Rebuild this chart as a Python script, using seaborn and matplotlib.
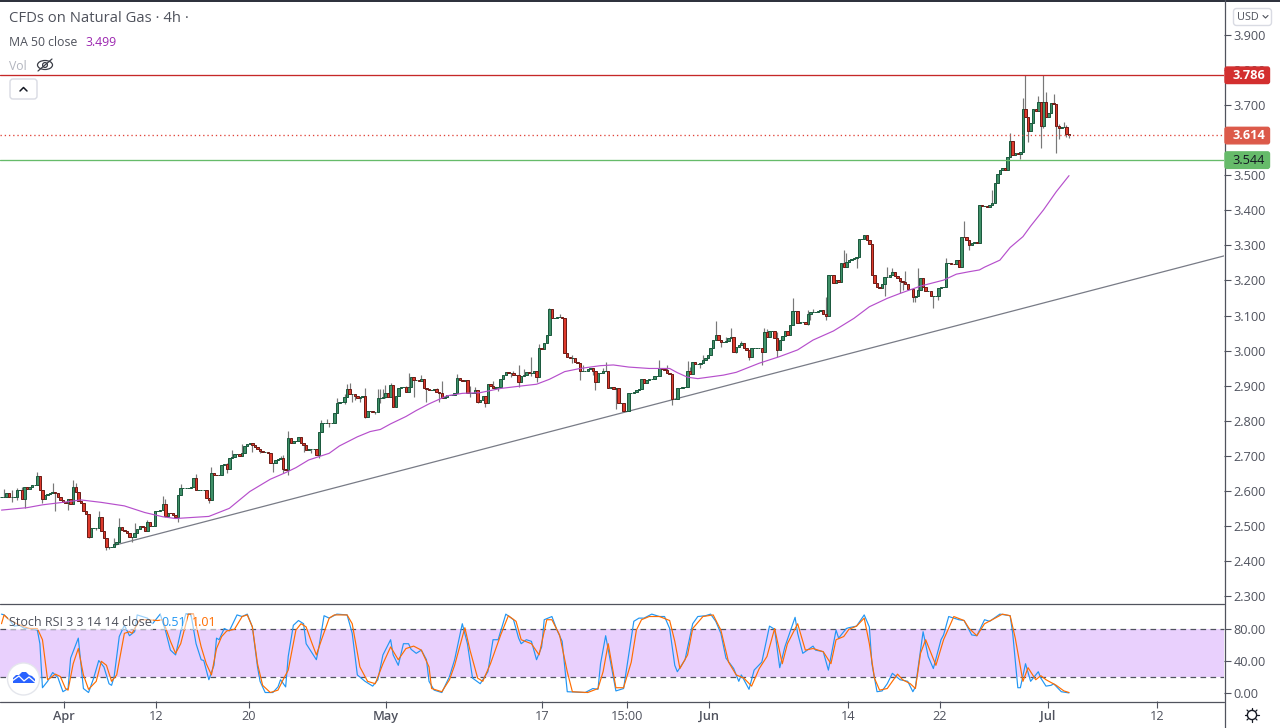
import numpy as np
import pandas as pd
import matplotlib
matplotlib.use("Agg")
import matplotlib.pyplot as plt
from matplotlib.patches import FancyBboxPatch, Circle, Ellipse, Polygon
import seaborn as sns

# ---------- data ----------
first_open = 2.582
closes = [
2.582,2.582,2.595,2.582,2.582,2.582,2.601,2.602,2.577,2.610,2.606,2.610,2.616,2.617,2.642,2.601,2.577,2.588,2.591,2.593,
2.596,2.593,2.583,2.574,2.568,2.566,2.576,2.562,2.612,2.598,2.572,2.564,2.543,2.534,2.469,2.493,2.493,2.494,2.526,2.486,
2.465,2.439,2.439,2.441,2.448,2.455,2.496,2.488,2.486,2.479,2.467,2.467,2.479,2.490,2.500,2.498,2.484,2.512,2.500,2.500,
2.543,2.543,2.545,2.562,2.528,2.538,2.536,2.530,2.526,2.588,2.607,2.607,2.607,2.608,2.610,2.636,2.602,2.602,2.602,2.602,
2.579,2.574,2.650,2.646,2.645,2.645,2.674,2.677,2.661,2.693,2.697,2.705,2.705,2.700,2.707,2.728,2.734,2.737,2.731,2.724,
2.718,2.714,2.712,2.712,2.709,2.680,2.680,2.688,2.690,2.693,2.661,2.659,2.750,2.737,2.742,2.743,2.753,2.737,2.731,2.716,
2.718,2.720,2.720,2.701,2.769,2.793,2.794,2.794,2.793,2.794,2.821,2.850,2.854,2.854,2.869,2.889,2.876,2.876,2.870,2.864,
2.867,2.870,2.811,2.829,2.829,2.826,2.826,2.864,2.864,2.867,2.880,2.869,2.902,2.840,2.871,2.892,2.895,2.895,2.883,2.895,
2.926,2.916,2.916,2.914,2.918,2.892,2.890,2.888,2.888,2.890,2.883,2.878,2.864,2.867,2.873,2.873,2.874,2.880,2.921,2.916,
2.914,2.916,2.880,2.880,2.880,2.888,2.854,2.859,2.871,2.850,2.905,2.899,2.892,2.895,2.895,2.918,2.930,2.940,2.935,2.935,
2.930,2.929,2.909,2.928,2.930,2.940,2.937,2.937,2.943,2.924,3.008,3.004,3.021,3.045,3.118,3.092,3.092,3.095,3.097,3.092,
2.992,2.981,2.978,2.978,2.968,2.964,2.943,2.943,2.943,2.947,2.949,2.943,2.909,2.937,2.937,2.943,2.943,2.892,2.895,2.890,
2.892,2.850,2.850,2.829,2.829,2.878,2.880,2.883,2.888,2.890,2.918,2.907,2.916,2.918,2.918,2.928,2.928,2.949,2.947,2.945,
2.935,2.933,2.861,2.861,2.892,2.892,2.895,2.895,2.943,2.933,2.967,2.961,2.961,2.964,2.973,2.980,2.986,3.008,3.030,3.045,
3.030,3.024,3.024,3.026,3.037,3.040,2.997,3.011,3.016,3.021,3.008,3.002,2.983,3.006,3.008,3.008,3.008,2.997,3.054,3.040,
3.056,3.056,3.035,3.002,3.030,3.043,3.056,3.045,3.073,3.113,3.113,3.078,3.081,3.081,3.075,3.103,3.109,3.109,3.111,3.113,
3.116,3.103,3.100,3.217,3.217,3.192,3.201,3.197,3.249,3.239,3.252,3.258,3.260,3.263,3.268,3.318,3.318,3.330,3.315,3.303,
3.217,3.192,3.180,3.178,3.189,3.211,3.211,3.216,3.225,3.214,3.208,3.198,3.197,3.189,3.176,3.176,3.154,3.157,3.173,3.206,
3.182,3.170,3.170,3.157,3.157,3.157,3.178,3.180,3.181,3.249,3.249,3.247,3.246,3.258,3.239,3.325,3.323,3.315,3.300,3.306,
3.310,3.308,3.415,3.411,3.411,3.409,3.414,3.422,3.479,3.503,3.515,3.522,3.515,3.553,3.597,3.558,3.563,3.560,3.567,3.688,
3.667,3.627,3.648,3.688,3.684,3.708,3.642,3.708,3.665,3.679,3.705,3.702,3.642,3.636,3.639,3.639,3.617,3.614,
]
high_bars = [1,4,6,8,9,14,20,28,29,38,44,46,52,57,63,64,70,76,82,88,90,94,112,125,131,135,136,142,148,150,152,159,172,178,192,202,207,210,218,214,236,257,260,268,274,279,285,289,298,299,303,309,315,322,329,330,337,346,348,353,358,369,376,387,394,399,400,405,407,408,411,413,415,416,
             109,110,127,134,147,149,158,164,170,183,185,200,204,223,227,235,269,283,317]
high_vals = [2.604,2.602,2.607,2.610,2.612,2.653,2.623,2.631,2.623,2.542,2.466,2.522,2.507,2.517,2.585,2.576,2.619,2.647,2.667,2.680,2.715,2.734,2.771,2.802,2.864,2.905,2.907,2.892,2.890,2.902,2.907,2.935,2.913,2.933,2.913,2.959,2.983,3.018,3.103,3.121,2.967,2.973,2.959,2.970,2.987,3.084,3.065,3.027,3.063,3.061,3.054,3.149,3.116,3.154,3.287,3.277,3.331,3.239,3.235,3.227,3.235,3.263,3.371,3.458,3.620,3.721,3.785,3.726,3.785,3.737,3.732,3.646,3.652,3.643,
             2.700,2.702,2.804,2.876,2.890,2.890,2.899,2.930,2.894,2.899,2.895,2.943,2.947,2.987,2.959,2.949,2.954,3.040,3.120]
low_bars = [4,6,9,16,21,26,34,37,41,42,51,64,69,81,88,98,101,106,110,112,124,128,137,142,143,146,153,161,166,186,189,202,209,226,232,240,243,262,273,287,292,297,303,315,322,334,345,351,352,356,357,364,378,382,398,401,406,407,412,413,416,417,
            118,121,134,140,138,148,150,171,183,194,199,207,223,231,281,316,366]
low_vals = [2.569,2.574,2.550,2.564,2.543,2.545,2.465,2.488,2.431,2.434,2.455,2.524,2.512,2.566,2.650,2.712,2.709,2.655,2.650,2.645,2.695,2.783,2.854,2.807,2.811,2.819,2.838,2.869,2.854,2.850,2.838,2.895,2.911,2.916,2.888,2.832,2.826,2.845,2.950,2.992,2.973,2.959,2.983,3.073,3.087,3.236,3.157,3.163,3.173,3.139,3.139,3.121,3.287,3.393,3.546,3.596,3.577,3.634,3.565,3.603,3.608,3.606,
            2.712,2.708,2.849,2.854,2.859,2.850,2.864,2.854,2.867,2.886,2.924,2.927,2.964,2.930,3.011,3.087,3.144]

ma_bars = [0,10,16,26,31,39,48,56,63,68,81,89,97,105,111,115,120,128,132,139,144,148,152,158,162,167,174,180,187,195,203,209,214,220,226,234,239,245,253,261,264,268,272,282,287,296,304,311,317,325,333,339,346,351,359,368,373,378,382,384,390,394,399,402,407,412,417]
ma_vals = [2.545,2.552,2.560,2.569,2.574,2.567,2.557,2.538,2.526,2.521,2.527,2.550,2.598,2.633,2.652,2.666,2.688,2.707,2.728,2.754,2.769,2.775,2.791,2.812,2.829,2.848,2.871,2.878,2.880,2.892,2.899,2.904,2.918,2.940,2.949,2.957,2.959,2.953,2.949,2.949,2.937,2.924,2.920,2.930,2.938,2.964,2.983,3.002,3.030,3.056,3.092,3.125,3.149,3.163,3.184,3.201,3.218,3.225,3.230,3.238,3.258,3.294,3.325,3.355,3.401,3.453,3.499]

trend_bars = [44.3, 477.5]
trend_vals = [2.445, 3.270]
resistance = 3.786
support = 3.544
last_price = 3.614

k_bars = [0,1,3,5,7,9,12,14,15,16,18,20,22,24,26,27,30,31,32,34,36,38,40,42,43,44,46,48,50,52,53,57,59,62,64,66,68,70,72,74,76,78,79,81,83,84,85,87,89,92,94,96,98,100,101,103,106,108,109,111,112,114,116,118,119,121,123,124,126,128,131,135,137,139,142,145,147,149,152,153,155,157,159,160,162,164,166,167,
169,172,175,177,180,182,184,187,190,192,194,197,200,202,203,205,207,209,211,212,215,217,219,221,228,231,233,234,236,240,243,245,247,249,251,254,257,259,261,263,264,267,270,272,275,277,279,281,283,286,288,289,292,294,297,300,302,304,306,310,311,313,317,318,321,323,326,327,330,
331,334,337,339,340,342,344,346,348,351,354,356,357,360,362,364,367,368,370,374,376,379,381,384,386,390,394,395,397,398,400,402,405,406,408,410,411,414,417]
k_vals = [99,98,92,84,85,81,81,79,62,7,15,26,20,2,6,44,69,37,6,1,19,41,33,12,10,21,71,85,72,77,98,94,87,99,79,54,48,77,99,99,62,42,41,17,35,69,67,81,78,98,96,99,83,33,15,1,1,8,17,8,46,85,91,87,62,52,42,58,97,94,99,98,75,23,15,9,17,48,67,48,35,62,62,55,50,54,42,15,
4,1,21,42,87,62,19,12,27,67,67,99,92,69,62,67,65,42,58,92,96,79,65,2,1,6,5,37,72,3,6,48,90,94,94,99,96,96,81,35,27,42,87,96,97,99,90,75,44,31,15,23,5,29,39,84,80,32,58,95,75,50,59,54,52,29,79,69,81,
82,84,98,83,37,2,3,12,25,17,15,2,8,77,46,31,67,73,96,92,91,73,72,92,90,99,97,75,7,7,37,15,27,19,9,10,12,2,0.51]
d_bars = [0,1,3,6,9,11,14,16,18,19,21,23,25,26,28,30,32,34,37,39,41,43,45,48,50,51,54,57,61,63,66,68,70,73,75,78,80,82,84,86,88,91,94,96,98,100,102,105,108,110,112,115,117,119,121,123,125,128,130,135,137,140,143,146,149,152,155,158,161,164,167,
168,172,175,177,181,183,186,188,191,195,198,201,203,207,210,213,215,218,221,223,229,233,235,237,240,243,246,248,250,253,257,261,263,265,268,270,274,278,281,284,287,290,293,296,299,302,305,307,311,314,317,321,324,326,329,
331,334,337,339,341,343,346,350,352,355,357,359,361,365,368,372,376,378,381,384,387,391,394,396,399,401,404,406,408,412,415,417]
d_vals = [87,98,92,87,83,81,81,67,17,19,24,21,6,4,37,56,23,5,15,40,35,15,23,75,77,75,92,92,91,92,65,50,62,99,99,58,37,23,56,71,78,80,96,98,83,37,10,1,4,17,29,79,87,83,65,48,67,94,98,98,87,33,15,12,37,58,42,56,59,54,33,
6,2,17,35,82,54,19,15,37,73,97,90,67,62,48,92,92,73,27,2,1,6,27,62,7,7,39,79,92,96,96,91,65,31,48,81,96,98,79,39,23,19,9,31,46,81,37,62,87,54,56,52,37,67,71,
80,84,94,62,19,4,6,24,17,12,6,50,67,35,67,96,91,81,72,87,92,99,97,69,15,32,17,22,17,10,3,1.01]

price_ticks = [2.3,2.4,2.5,2.6,2.7,2.8,2.9,3.0,3.1,3.2,3.3,3.4,3.5,3.7,3.8,3.9]
osc_ticks = [0,40,80]
osc_band = [20,80]
time_tick_bars = [24.4,60.4,96.7,150.2,211.1,244.3,276.4,330.7,366.6,408.8,451.4]
time_tick_labels = ["Apr","12","20","May","17","15:00","Jun","14","22","Jul","12"]

# ---------- build ----------
W, H = 1280, 728
GRAY = "#50535e"
sns.set_theme(style="white")
plt.rcParams["font.family"] = ["Open Sans", "DejaVu Sans"]
fig = plt.figure(figsize=(W/100, H/100), dpi=100, facecolor="white")
ax = fig.add_axes([0, (H-603)/H, 1224/W, 603/H])
ax2 = fig.add_axes([0, (H-701)/H, 1224/W, 98/H], sharex=ax)

df = pd.DataFrame({"close": closes})
df["bar"] = np.arange(len(df))
df["open"] = [first_open] + closes[:-1]
df["high"] = df[["open", "close"]].max(axis=1)
df["low"] = df[["open", "close"]].min(axis=1)
for b, v in zip(high_bars, high_vals):
    df.loc[b, "high"] = max(df.loc[b, "high"], v)
for b, v in zip(low_bars, low_vals):
    df.loc[b, "low"] = min(df.loc[b, "low"], v)
up = df["close"] >= df["open"]

ax.vlines(df["bar"], df["low"], df["high"], color="#787878", lw=0.85, zorder=2)
for mask, fc, ec in [(up, "#3f9068", "#1d5a3f"), (~up, "#de3a2c", "#6e1d18")]:
    d = df[mask]
    ax.bar(d["bar"], (d["close"]-d["open"]), bottom=d["open"], width=0.95,
           color=fc, edgecolor=ec, linewidth=0.72, zorder=3)

sns.lineplot(x=ma_bars, y=ma_vals, ax=ax, color="#b64fcc", lw=0.85, estimator=None, sort=False, zorder=4)
sns.lineplot(x=trend_bars, y=trend_vals, ax=ax, color="#787b86", lw=0.9, estimator=None, sort=False, zorder=1)
ax.axhline(resistance, color="#c62828", lw=0.95, zorder=5)
ax.axhline(support, color="#66bb6a", lw=0.95, zorder=5)
ax.axhline(last_price, color="#e0443a", lw=0.95, ls=(0, (1, 2.2)), zorder=5)

ax.set_xlim(-0.586, 477.54)
ax.set_ylim(2.280, 4.000)
ax2.set_ylim(-9.6, 112.9)

ax2.axhspan(osc_band[0], osc_band[1], color="#e9d0fd", lw=0, zorder=0)
for v in osc_band:
    ax2.axhline(v, color=GRAY, lw=0.9, ls=(0, (4.5, 3.5)), zorder=1)
sns.lineplot(x=k_bars, y=k_vals, ax=ax2, color="#2196f3", lw=0.85, estimator=None, sort=False, zorder=3)
sns.lineplot(x=d_bars, y=d_vals, ax=ax2, color="#ff6d00", lw=0.85, estimator=None, sort=False, zorder=4)

for a in (ax, ax2):
    a.yaxis.tick_right()
    for s in ("left", "top", "bottom", "right"):
        a.spines[s].set_visible(False)
    a.set_xlabel(""); a.set_ylabel("")
    a.patch.set_alpha(0)

ax.set_yticks(price_ticks)
ax.set_yticklabels([f"{v:.3f}" for v in price_ticks])
ax2.set_yticks(osc_ticks)
ax2.set_yticklabels([f"{v:.2f}" for v in osc_ticks])
for a in (ax, ax2):
    a.tick_params(axis="y", right=True, length=5, width=0.8, color=GRAY, labelcolor=GRAY,
                  labelsize=9.2, pad=2)
ax.tick_params(axis="x", bottom=False, labelbottom=False)
ax2.set_xticks(time_tick_bars)
ax2.set_xticklabels(time_tick_labels)
ax2.tick_params(axis="x", bottom=True, length=5, width=0.8, color=GRAY, labelcolor=GRAY,
                labelsize=9.2, pad=1.5)
for lab in ax2.get_xticklabels():
    if lab.get_text() in ("Apr", "May", "Jun", "Jul"):
        lab.set_fontweight("semibold")

# overlay in pixel space for the platform chrome
ov = fig.add_axes([0, 0, 1, 1], facecolor="none")
ov.set_xlim(0, W); ov.set_ylim(H, 0); ov.axis("off")
ov.plot([0, W], [0.5, 0.5], color="#2a2e39", lw=1.4)
ov.plot([0, 1224], [603.5, 603.5], color=GRAY, lw=0.9)
ov.plot([0, 1224], [701.5, 701.5], color=GRAY, lw=0.9)
ov.plot([1224.5, 1224.5], [0, H], color=GRAY, lw=0.9)

def ypx(p):
    return H - ax.transData.transform((0, p))[1]

for val, fc, tc, w in [(resistance, "#d32f2f", "white", "bold"),
                       (last_price, "#dc5a4a", "white", "bold"),
                       (support, "#66bb6a", "#131722", "normal")]:
    y = ypx(val)
    ov.add_patch(FancyBboxPatch((1225, y-8), 44.5, 16.5, boxstyle="round,pad=0,rounding_size=2",
                                fc=fc, ec=fc, lw=1, zorder=6))
    ov.text(1249, y+0.6, f"{val:.3f}", color=tc, fontsize=9.2, fontweight=w, ha="center", va="center", zorder=7)

# legends
ov.text(9, 18.5, "CFDs on Natural Gas · 4h ·", color="#4f525c", fontsize=10.7, va="center")
ov.text(9, 42.5, "MA 50 close", color="#4f525c", fontsize=8.8, va="center")
ov.text(85, 42.5, "3.499", color="#9c27b0", fontsize=8.8, va="center")
ov.text(9, 66.5, "Vol", color="#b2b5be", fontsize=8.8, va="center")
ov.add_patch(Ellipse((45, 65), 15, 9, fc="none", ec="#3a3d46", lw=0.9))
ov.add_patch(Circle((45, 65), 2.4, fc="none", ec="#3a3d46", lw=0.9))
ov.plot([38, 52], [71, 59], color="#3a3d46", lw=0.9)
ov.add_patch(FancyBboxPatch((10, 79), 27, 20, boxstyle="round,pad=0,rounding_size=3", fc="white", ec="#d9dbe3", lw=1))
ov.plot([20, 23.5, 27], [91, 87.5, 91], color="#131722", lw=1.1)

ov.text(9, 622, "Stoch RSI 3 3 14 14 close", color="#4f525c", fontsize=9.0, va="center",
        bbox=dict(fc="white", ec="none", alpha=0.55, pad=1), zorder=5)
ov.text(161, 622, "0.51", color="#2196f3", fontsize=9.0, va="center", zorder=5,
        bbox=dict(fc="white", ec="none", alpha=0.55, pad=1))
ov.text(192, 622, "1.01", color="#ff6d00", fontsize=9.0, va="center", zorder=5,
        bbox=dict(fc="white", ec="none", alpha=0.55, pad=1))

# logo
ov.add_patch(Circle((23.5, 679), 16, fc="white", ec="#e4e6ec", lw=1, zorder=5))
cloud = [(13,683),(13,678),(16,675),(19,675),(22,672),(26,672),(29,675),(32,676),(35,679),(35,683)]
ov.add_patch(Polygon(cloud, fc="#2962ff", ec="none", zorder=6))
ov.plot([12, 19, 24, 29, 36], [681, 676, 681, 677, 683], color="white", lw=0.9, zorder=7)

# currency box
ov.add_patch(FancyBboxPatch((1233.5, 8.5), 38, 17, boxstyle="round,pad=0,rounding_size=3", fc="white", ec="#d9dbe3", lw=1))
ov.text(1237, 17.5, "USD", color="#4f525c", fontsize=7.8, va="center")
ov.plot([1263, 1265.5, 1268], [15.5, 18, 15.5], color="#4f525c", lw=0.8)

# settings icon
ov.add_patch(Circle((1252, 715), 4.6, fc="none", ec="#131722", lw=1))
for a0 in np.deg2rad(np.arange(0, 360, 45)):
    ov.plot([1252+5.2*np.cos(a0), 1252+7*np.cos(a0)], [715+5.2*np.sin(a0), 715+7*np.sin(a0)], color="#131722", lw=0.9)

fig.savefig("out.png", dpi=100)
